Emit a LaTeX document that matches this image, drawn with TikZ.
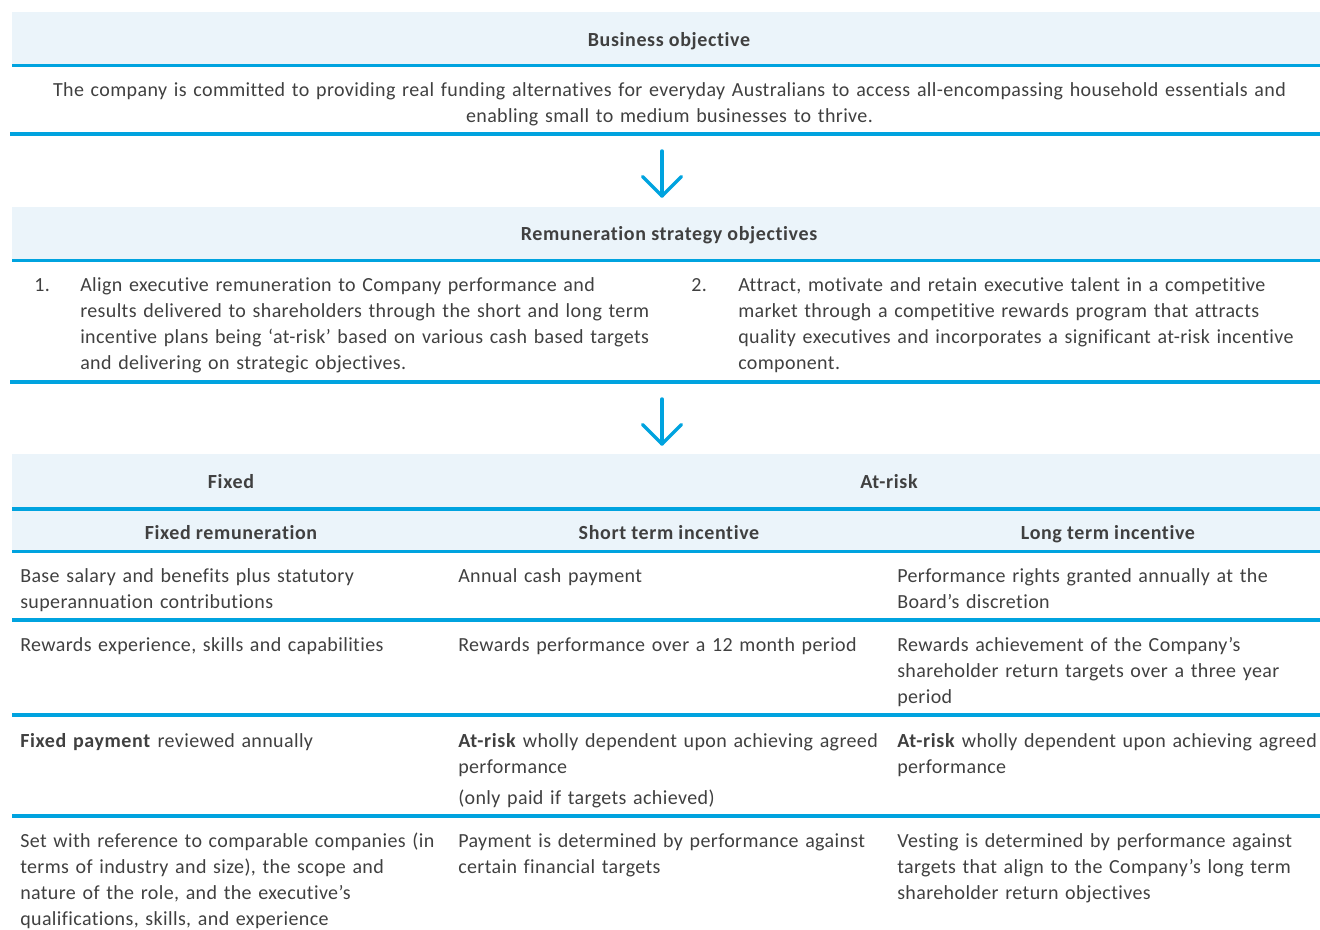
\documentclass[tikz,border=0pt]{standalone}
\usepackage{fontspec}
\setmainfont{Carlito}[Ligatures=NoCommon, LetterSpace=1.9, BoldFeatures={LetterSpace=3.1}]
\usetikzlibrary{calc}
\definecolor{txt}{HTML}{404040}
\definecolor{band}{HTML}{EBF4FA}
\definecolor{rule}{HTML}{00A3DF}
\newcommand\bodyfont{\fontsize{15}{19.5}\selectfont}
\newcommand\widespace{\spaceskip=\dimexpr\fontdimen2\font+1.4pt\relax}
\tikzset{
  bandfill/.style={fill=band},
  rulel/.style={draw=rule, line width=2.4pt},
  conn/.style={draw=rule, line width=2.6pt, line cap=round, line join=round},
  cell/.style={anchor=base west, inner sep=0pt, text width=440pt, align=left},
  head/.style={anchor=base, inner sep=0pt, font=\bodyfont\bfseries},
}
\begin{document}
\begin{tikzpicture}[x=0.75pt, y=-0.75pt, font=\bodyfont, text=txt]
\useasboundingbox (0,0) rectangle (1320,930);
% bands
\fill[bandfill] (12,12) rectangle (1320,64);
\fill[bandfill] (12,207) rectangle (1320,259);
\fill[bandfill] (12,454) rectangle (1320,550);
% rules
\draw[rulel] (12,65.5) -- (1320,65.5);
\draw[rulel] (10,134) -- (1320,134);
\draw[rulel] (12,260.5) -- (1320,260.5);
\draw[rulel] (10,382) -- (1320,382);
\draw[rulel] (12,509) -- (1320,509);
\draw[rulel] (12,551.5) -- (1320,551.5);
\draw[rulel] (12,620) -- (1320,620);
\draw[rulel] (12,715) -- (1320,715);
\draw[rulel] (12,816) -- (1320,816);
% headers
\node[head] (bizh) at (669,46.5) {Business objective};
\node[anchor=base, inner sep=0pt, align=center] (bizt) at (669.5,122.5)
  {{\widespace The company is committed to providing real funding alternatives for everyday Australians to access all-encompassing household essentials and}\\
   {\widespace enabling small to medium businesses to thrive.}};
\node[head] (remh) at (669,240.5) {Remuneration strategy objectives};
\node[anchor=base west, inner sep=0pt] (n1) at (34,291.5) {1.};
\node[cell] (o1) at (80,291.5) {Align executive remuneration to Company performance and\\
  results delivered to shareholders through the short and long term\\
  incentive plans being ‘at-risk’ based on various cash based targets\\
  and delivering on strategic objectives.};
\node[anchor=base west, inner sep=0pt] (n2) at (691,291.5) {2.};
\node[cell] (o2) at (738,291.5) {Attract, motivate and retain executive talent in a competitive\\
  market through a competitive rewards program that attracts\\
  quality executives and incorporates a significant at-risk incentive\\
  component.};
% arrows
\coordinate (a1s) at (662,151);
\coordinate (a1e) at (662,196);
\coordinate (a2s) at (662,399);
\coordinate (a2e) at (662,444);
\draw[conn] (a1s) -- (a1e);
\draw[conn] ($(a1e)+(-19.5,-19.5)$) -- (a1e) -- ($(a1e)+(19.5,-19.5)$);
\draw[conn] (a2s) -- (a2e);
\draw[conn] ($(a2e)+(-19.5,-19.5)$) -- (a2e) -- ($(a2e)+(19.5,-19.5)$);
% table headers
\node[head] (fixh) at (231,488.5) {Fixed};
\node[head] (riskh) at (889,488.5) {At-risk};
\node[head] (c1h) at (231,539) {Fixed remuneration};
\node[head] (c2h) at (669,539) {Short term incentive};
\node[head] (c3h) at (1108,539) {Long term incentive};
% row 1
\node[cell] (r1a) at (20,582) {Base salary and benefits plus statutory\\superannuation contributions};
\node[cell] (r1b) at (458,582) {Annual cash payment};
\node[cell] (r1c) at (897,582) {Performance rights granted annually at the\\Board’s discretion};
% row 2
\node[cell] (r2a) at (20,651) {Rewards experience, skills and capabilities};
\node[cell] (r2b) at (458,651) {Rewards performance over a 12 month period};
\node[cell] (r2c) at (897,651) {Rewards achievement of the Company’s\\shareholder return targets over a three year\\period};
% row 3
\node[cell] (r3a) at (20,747) {\textbf{Fixed payment} reviewed annually};
\node[cell] (r3b) at (458,747) {\textbf{At-risk} wholly dependent upon achieving agreed\\performance\\[3.75pt](only paid if targets achieved)};
\node[cell] (r3c) at (897,747) {\textbf{At-risk} wholly dependent upon achieving agreed\\performance};
% row 4
\node[cell] (r4a) at (20,847) {Set with reference to comparable companies (in\\terms of industry and size), the scope and\\nature of the role, and the executive’s\\qualifications, skills, and experience};
\node[cell] (r4b) at (458,847) {Payment is determined by performance against\\certain financial targets};
\node[cell] (r4c) at (897,847) {Vesting is determined by performance against\\targets that align to the Company’s long term\\shareholder return objectives};
\end{tikzpicture}
\end{document}
